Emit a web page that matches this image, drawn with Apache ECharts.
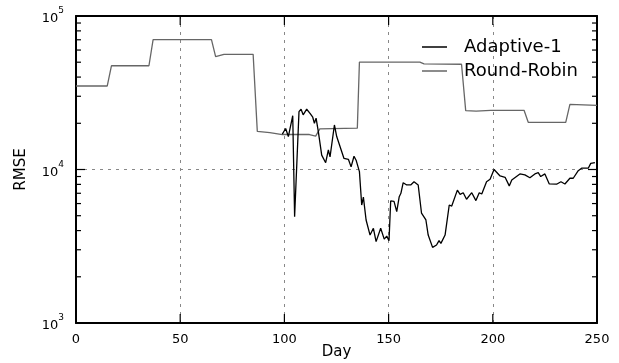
<!DOCTYPE html>
<html>
<head>
<meta charset="utf-8">
<script src="https://cdn.jsdelivr.net/npm/echarts@6/dist/echarts.min.js"></script>
<style>
  html, body { margin: 0; padding: 0; background: #fff; }
  #main { width: 619px; height: 363px; }
</style>
</head>
<body>
<div id="main"></div>
<script>
// days on the x axis, rmse
const rrDays = [0, 15, 17, 35, 37, 65, 67, 71, 85, 87, 93, 99, 112, 115, 117, 135, 136, 165, 167, 185, 187, 192, 199, 215, 217, 235, 237, 250];
const rrRmse = [35000, 35000, 47400, 47400, 70100, 70100, 54300, 56300, 56300, 17700, 17400, 16900, 16900, 16500, 18400, 18600, 50100, 50000, 48700, 48500, 24200, 24000, 24300, 24300, 20300, 20300, 26600, 26200];

const adDays = [99, 100.6, 101.9, 104, 104.9, 107, 108, 109, 110.7, 112.3, 113.6, 114.4, 115.2, 116.3, 117.9, 119.8, 121.1, 121.9, 124, 125.1, 128.6, 130.7, 132, 133.4, 134.4, 136, 137.1, 137.9, 139.2, 141.1, 142.7, 144, 146.2, 147.9, 149.1, 150.2, 151, 152.6, 153.9, 155.1, 155.9, 157, 158.7, 160.6, 162.2, 164.2, 165.8, 167.9, 169, 171.1, 173, 174.2, 175.1, 177.1, 179.1, 180.3, 183, 184.3, 185.8, 187.4, 189.9, 191.9, 193.5, 194.7, 197, 198.7, 200.6, 203.5, 205.9, 207.9, 209.1, 213, 215.4, 217.8, 220.2, 221.8, 223, 225, 227.1, 230.6, 232.7, 234.6, 237, 238.6, 241, 242.6, 245.8, 247, 249];
const adRmse = [17000, 18500, 16400, 22400, 4930, 23800, 24700, 22700, 24700, 23200, 21900, 20000, 21600, 17600, 12400, 11070, 13400, 12100, 19500, 16400, 11800, 11650, 10400, 12200, 11500, 9680, 5870, 6600, 4690, 3740, 4140, 3390, 4140, 3520, 3680, 3440, 6240, 6200, 5310, 6650, 7000, 8200, 7930, 7930, 8320, 7930, 5190, 4690, 3740, 3110, 3220, 3440, 3300, 3740, 5870, 5780, 7340, 6880, 7060, 6400, 7060, 6270, 7060, 6920, 8320, 8630, 10000, 9080, 8900, 7820, 8550, 9360, 9220, 8840, 9360, 9530, 9000, 9360, 8050, 8020, 8320, 8050, 8770, 8770, 9820, 10200, 10200, 10970, 11100];

// tick values: major x / y, minor y (2..9 x 10^n)
const xTicks = [0, 50, 100, 150, 200, 250];
const yTicks = [1000, 10000, 100000];
const minorTicks = [2000, 3000, 4000, 5000, 6000, 7000, 8000, 9000, 20000, 30000, 40000, 50000, 60000, 70000, 80000, 90000];

const chart = echarts.init(document.getElementById('main'));

const font = 'DejaVu Sans';
const gridLine = () => ({ show: true, lineStyle: { color: '#888', type: [3, 5], width: 1 } });
const frame = () => ({ show: true, onZero: false, lineStyle: { color: '#000', width: 2 } });

// every inward tick on the four sides: [x, y, dx, dy]
const tickData = [];
xTicks.forEach(d => {
  tickData.push([d, 1000, 0, -9]);
  tickData.push([d, 100000, 0, 9]);
});
yTicks.forEach(v => {
  tickData.push([0, v, 9, 0]);
  tickData.push([250, v, -9, 0]);
});
minorTicks.forEach(v => {
  tickData.push([0, v, 5, 0]);
  tickData.push([250, v, -5, 0]);
});

const option = {
  animation: false,
  textStyle: { fontFamily: font },
  grid: { left: 76, right: 22, top: 16, bottom: 40, outerBoundsMode: 'none' },
  legend: {
    data: ['Adaptive-1', 'Round-Robin'],
    orient: 'vertical',
    left: 417,
    top: 33,
    itemWidth: 25,
    itemHeight: 1.5,
    icon: 'rect',
    itemGap: 6,
    textStyle: { fontFamily: font, fontSize: 18, color: '#000', padding: [0, 0, 0, 12] }
  },
  xAxis: [{
    type: 'value',
    min: 0,
    max: 250,
    interval: 50,
    name: 'Day',
    nameLocation: 'middle',
    nameGap: 22,
    nameMoveOverlap: false,
    nameTextStyle: { fontFamily: font, fontSize: 15, color: '#000' },
    axisLine: frame(),
    axisTick: { show: false },
    axisLabel: { fontFamily: font, fontSize: 13, color: '#000', margin: 10 },
    splitLine: gridLine()
  }, {
    type: 'value',
    position: 'top',
    min: 0,
    max: 250,
    interval: 50,
    axisLine: frame(),
    axisTick: { show: false },
    axisLabel: { show: false },
    splitLine: { show: false }
  }],
  yAxis: [{
    type: 'log',
    logBase: 10,
    min: 1000,
    max: 100000,
    name: 'RMSE',
    nameLocation: 'middle',
    nameGap: 47,
    nameMoveOverlap: false,
    nameTextStyle: { fontFamily: font, fontSize: 15, color: '#000' },
    axisLine: frame(),
    axisTick: { show: false },
    axisLabel: {
      margin: 12,
      formatter: v => '{b|10}{s|' + Math.round(Math.log10(v)) + '}',
      rich: {
        b: { fontFamily: font, fontSize: 13, color: '#000', padding: [6, 0, 0, 0] },
        s: { fontFamily: font, fontSize: 9, color: '#000', verticalAlign: 'top' }
      }
    },
    splitLine: gridLine()
  }, {
    type: 'log',
    logBase: 10,
    min: 1000,
    max: 100000,
    position: 'right',
    axisLine: frame(),
    axisTick: { show: false },
    axisLabel: { show: false },
    splitLine: { show: false }
  }],
  series: [{
    name: 'Adaptive-1',
    type: 'line',
    symbol: 'none',
    color: '#000',
    lineStyle: { color: '#000', width: 1.3 },
    data: adDays.map((d, i) => [d, adRmse[i]]),
    z: 3
  }, {
    name: 'Round-Robin',
    type: 'line',
    symbol: 'none',
    color: '#666',
    lineStyle: { color: '#666', width: 1.3 },
    data: rrDays.map((d, i) => [d, rrRmse[i]]),
    z: 2
  }, {
    name: 'ticks',
    type: 'custom',
    clip: false,
    z: 10,
    data: tickData,
    encode: { x: 0, y: 1 },
    renderItem: function (params, api) {
      const p = api.coord([api.value(0), api.value(1)]);
      return {
        type: 'line',
        shape: { x1: p[0], y1: p[1], x2: p[0] + api.value(2), y2: p[1] + api.value(3) },
        style: { stroke: '#000', lineWidth: 1.2 }
      };
    }
  }]
};

chart.setOption(option);
</script>
</body>
</html>
